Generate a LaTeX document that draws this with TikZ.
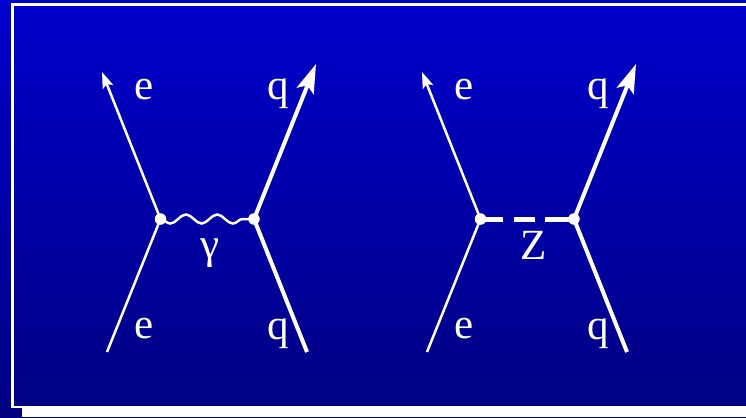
\documentclass[tikz,border=0pt]{standalone}
\usepackage{fontspec}
\setmainfont{Liberation Serif}
\usetikzlibrary{arrows.meta,decorations.pathmorphing}
\definecolor{bgtop}{RGB}{0,0,205}
\definecolor{bgbottom}{RGB}{0,0,128}
\begin{document}
\begin{tikzpicture}[
  x=0.02cm, y=-0.02cm,
  vnode/.style={circle, fill=white, inner sep=0pt, minimum size=0.23cm},
  lepton/.style={white, line width=0.05cm},
  quark/.style={white, line width=0.08cm},
  tiplepton/.style={-{Stealth[length=0.32cm, width=0.22cm, inset=0.06cm]}},
  tipquark/.style={-{Stealth[length=0.58cm, width=0.36cm, inset=0.12cm]}},
  photon/.style={white, line width=0.05cm, decorate, decoration={snake, segment length=0.626cm, amplitude=-0.09cm}},
  zboson/.style={white, line width=0.1cm, dash pattern=on 0.44cm off 0.22cm on 0.42cm off 0.22cm on 0.58cm off 0cm},
  label/.style={text=white, inner sep=0pt, font=\fontsize{24.5}{27}\selectfont}
]
  \useasboundingbox (0,0) rectangle (746,417);

  % Fondo y marco
  \shade[top color=bgtop, bottom color=bgbottom] (0,0) rectangle (746,417);
  \fill[white] (11,3) rectangle (746,6);
  \fill[white] (11,3) rectangle (14,408);
  \fill[white] (11,406) rectangle (22,408);
  \fill[white] (22,406) rectangle (746,417);

  % Diagrama del foton
  \node[vnode] (v1) at (160.5,219) {};
  \node[vnode] (v2) at (254,219) {};
  \coordinate (a1) at (107,352);
  \coordinate (a2) at (102,72);
  \coordinate (a3) at (307,352);
  \coordinate (a4) at (316,64);

  \draw[lepton] (a1) -- (v1.center);
  \draw[lepton, tiplepton] (v1.center) -- (a2);
  \draw[quark] (a3) -- (v2.center);
  \draw[quark, tipquark] (v2.center) -- (a4);
  \draw[photon] (v1.center) -- (v2.center);

  % Diagrama del Z
  \node[vnode] (v3) at (480.5,219) {};
  \node[vnode] (v4) at (574,219) {};
  \coordinate (b1) at (427,352);
  \coordinate (b2) at (422,72);
  \coordinate (b3) at (627,352);
  \coordinate (b4) at (636,64);

  \draw[lepton] (b1) -- (v3.center);
  \draw[lepton, tiplepton] (v3.center) -- (b2);
  \draw[quark] (b3) -- (v4.center);
  \draw[quark, tipquark] (v4.center) -- (b4);
  \draw[zboson] (v3.center) -- (v4.center);

  % Etiquetas
  \node[label] (l1) at (144,90) {e};
  \node[label] (l2) at (278,94) {q};
  \node[label] (l3) at (144,329) {e};
  \node[label] (l4) at (278,334) {q};
  \node[label] (l5) at (210,253) {γ};
  \node[label] (l6) at (464,90) {e};
  \node[label] (l7) at (598,94) {q};
  \node[label] (l8) at (464,329) {e};
  \node[label] (l9) at (598,334) {q};
  \node[label] (l10) at (534,245) {Z};
\end{tikzpicture}
\end{document}
